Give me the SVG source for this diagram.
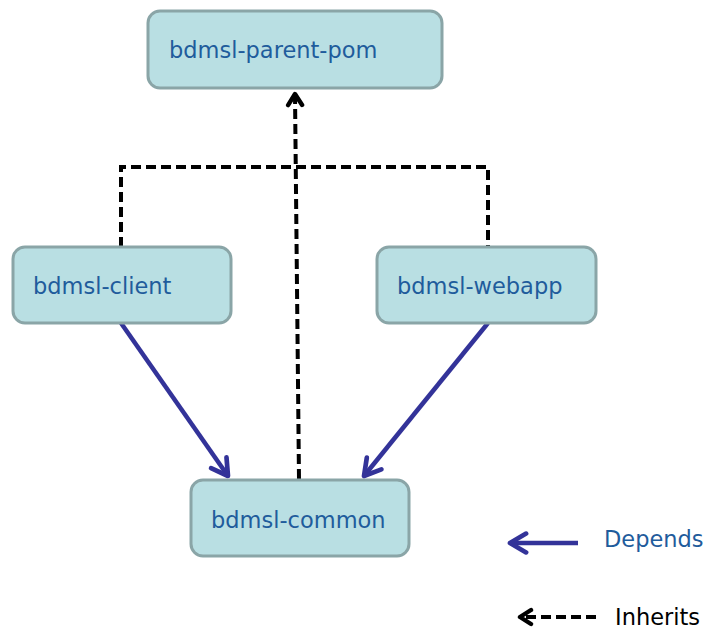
<svg xmlns="http://www.w3.org/2000/svg" width="708" height="634" viewBox="0 0 708 634">
<defs>
<style>
.box{fill:#b9dfe3;stroke:#8aa5a7;stroke-width:3}
.lbl{font-family:"DejaVu Sans",Verdana,sans-serif;font-size:22.5px;fill:#1f5c9c}
.dash{fill:none;stroke:#000;stroke-width:4;stroke-dasharray:10,5}
.dep{fill:none;stroke:#333399;stroke-width:4.5}
</style>
<marker id="bh" viewBox="0 0 10 10" refX="8.5" refY="5" markerWidth="5.5" markerHeight="5.5" orient="auto" markerUnits="strokeWidth"><path d="M2,1.2 L8.5,5 L2,8.8" fill="none" stroke="#333399" stroke-width="1.9" stroke-linecap="round" stroke-linejoin="round"/></marker>
<marker id="kh" viewBox="0 0 10 10" refX="8" refY="5" markerWidth="5" markerHeight="5" orient="auto" markerUnits="strokeWidth"><path d="M2.5,1.5 L8,5 L2.5,8.5" fill="none" stroke="#000" stroke-width="2.2" stroke-linecap="round" stroke-linejoin="round"/></marker>
</defs>
<rect width="708" height="634" fill="#fff"/>
<g id="connectors">
<path class="dash" d="M121,247 V167 H488 V247"/>
<path class="dash" d="M299,479 L295,94" marker-end="url(#kh)"/>
<path class="dep" d="M121,323 L228,476" marker-end="url(#bh)"/>
<path class="dep" d="M488,323 L364,476" marker-end="url(#bh)"/>
</g>
<g id="parent-pom"><rect class="box" x="148" y="11" width="294" height="77" rx="12"/><text class="lbl" x="169" y="58">bdmsl-parent-pom</text></g>
<g id="client"><rect class="box" x="13" y="247" width="218" height="76" rx="12"/><text class="lbl" x="33" y="294">bdmsl-client</text></g>
<g id="webapp"><rect class="box" x="377" y="247" width="219" height="76" rx="12"/><text class="lbl" x="397" y="294">bdmsl-webapp</text></g>
<g id="common"><rect class="box" x="191" y="480" width="218" height="76" rx="12"/><text class="lbl" x="211" y="528">bdmsl-common</text></g>
<g id="legend">
<path class="dep" d="M578,543 L510,543" marker-end="url(#bh)"/>
<text class="lbl" x="604" y="547">Depends</text>
<path class="dash" d="M596,617 L520,617" marker-end="url(#kh)"/>
<text class="lbl" x="615" y="625" style="fill:#000">Inherits</text>
</g>
</svg>
